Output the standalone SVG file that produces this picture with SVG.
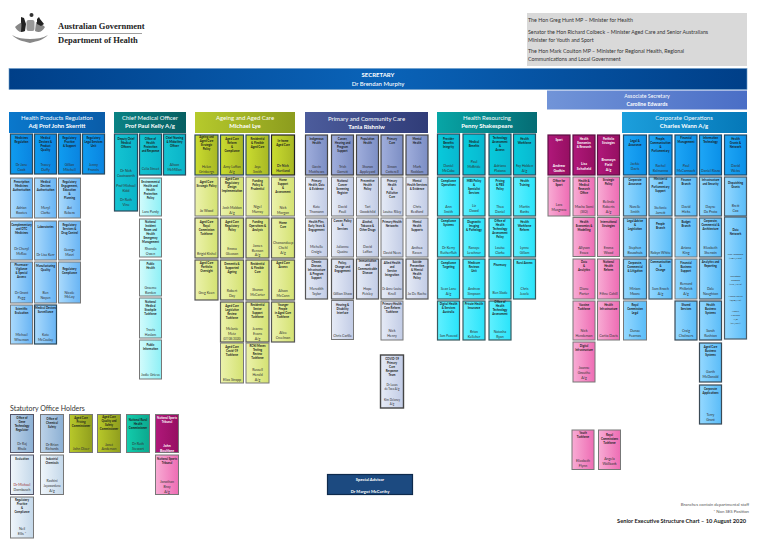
<svg xmlns="http://www.w3.org/2000/svg" width="760" height="543" viewBox="0 0 760 543">
<defs>
<linearGradient id="gSec" x1="0" x2="1" y1="0" y2="0"><stop offset="0" stop-color="#003f88"/><stop offset=".5" stop-color="#0a63b8"/><stop offset="1" stop-color="#003f88"/></linearGradient>
<linearGradient id="gAs" x1="0" x2="1" y1="0" y2="0"><stop offset="0" stop-color="#7194d8"/><stop offset="1" stop-color="#4a6ec6"/></linearGradient>
<linearGradient id="h1" x1="0" x2="1" y1="0" y2="0"><stop offset="0" stop-color="#0a78cc"/><stop offset="1" stop-color="#0a5ca8"/></linearGradient>
<linearGradient id="h2" x1="0" x2="1" y1="0" y2="0"><stop offset="0" stop-color="#0a8284"/><stop offset="1" stop-color="#075f62"/></linearGradient>
<linearGradient id="h3" x1="0" x2="1" y1="0" y2="0"><stop offset="0" stop-color="#b6ca2c"/><stop offset="1" stop-color="#8c9c1e"/></linearGradient>
<linearGradient id="h4" x1="0" x2="1" y1="0" y2="0"><stop offset="0" stop-color="#4c5c9c"/><stop offset="1" stop-color="#303c78"/></linearGradient>
<linearGradient id="h5" x1="0" x2="1" y1="0" y2="0"><stop offset="0" stop-color="#08a6a6"/><stop offset="1" stop-color="#056c74"/></linearGradient>
<linearGradient id="h6" x1="0" x2="1" y1="0" y2="0"><stop offset="0" stop-color="#1c9fdc"/><stop offset="1" stop-color="#0578b8"/></linearGradient>
<linearGradient id="a1" x1="0" x2="1" y1="0" y2="0"><stop offset="0" stop-color="#0f9cf0"/><stop offset="1" stop-color="#0a84e0"/></linearGradient>
<linearGradient id="a2" x1="0" x2="1" y1="0" y2="0"><stop offset="0" stop-color="#aadafc"/><stop offset="1" stop-color="#68b4f4"/></linearGradient>
<linearGradient id="b1" x1="0" x2="1" y1="0" y2="0"><stop offset="0" stop-color="#14c4d2"/><stop offset="1" stop-color="#0ab4c8"/></linearGradient>
<linearGradient id="b2" x1="0" x2="1" y1="0" y2="0"><stop offset="0" stop-color="#d2fbfc"/><stop offset="1" stop-color="#8ef0f6"/></linearGradient>
<linearGradient id="c1" x1="0" x2="1" y1="0" y2="0"><stop offset="0" stop-color="#cadc30"/><stop offset="1" stop-color="#a8b824"/></linearGradient>
<linearGradient id="c2" x1="0" x2="1" y1="0" y2="0"><stop offset="0" stop-color="#ecf2ac"/><stop offset="1" stop-color="#d4e272"/></linearGradient>
<linearGradient id="d1" x1="0" x2="1" y1="0" y2="0"><stop offset="0" stop-color="#a0aedc"/><stop offset="1" stop-color="#7c8ec4"/></linearGradient>
<linearGradient id="d2" x1="0" x2="1" y1="0" y2="0"><stop offset="0" stop-color="#e6ebf6"/><stop offset="1" stop-color="#c2cce6"/></linearGradient>
<linearGradient id="e1" x1="0" x2="1" y1="0" y2="0"><stop offset="0" stop-color="#08cadb"/><stop offset="1" stop-color="#08b8d0"/></linearGradient>
<linearGradient id="e2" x1="0" x2="1" y1="0" y2="0"><stop offset="0" stop-color="#60f0ff"/><stop offset="1" stop-color="#2ae4fa"/></linearGradient>
<linearGradient id="f1" x1="0" x2="1" y1="0" y2="0"><stop offset="0" stop-color="#b0187a"/><stop offset="1" stop-color="#960f62"/></linearGradient>
<linearGradient id="f2" x1="0" x2="1" y1="0" y2="0"><stop offset="0" stop-color="#f8acd4"/><stop offset="1" stop-color="#ee6cb4"/></linearGradient>
<linearGradient id="g1" x1="0" x2="1" y1="0" y2="0"><stop offset="0" stop-color="#1ea6f6"/><stop offset="1" stop-color="#0a90e8"/></linearGradient>
<linearGradient id="g2" x1="0" x2="1" y1="0" y2="0"><stop offset="0" stop-color="#94d8ff"/><stop offset="1" stop-color="#5abcf8"/></linearGradient>
<linearGradient id="s1" x1="0" x2="1" y1="0" y2="0"><stop offset="0" stop-color="#bcd2e8"/><stop offset="1" stop-color="#8cb0d4"/></linearGradient>
<linearGradient id="s2" x1="0" x2="1" y1="0" y2="0"><stop offset="0" stop-color="#f0f6fb"/><stop offset="1" stop-color="#c4d8ea"/></linearGradient>
<linearGradient id="s3" x1="0" x2="1" y1="0" y2="0"><stop offset="0" stop-color="#b8c82a"/><stop offset="1" stop-color="#909e1e"/></linearGradient>
<linearGradient id="s4" x1="0" x2="1" y1="0" y2="0"><stop offset="0" stop-color="#12ccac"/><stop offset="1" stop-color="#0ca88e"/></linearGradient>
</defs>
<style>
text{font-family:"Lato","Liberation Sans",sans-serif;text-anchor:middle;fill:#222}
.b{stroke:#777;stroke-width:1}
.k{stroke:#2c4a5c;stroke-width:1.2}
.t{font-size:2.9px;font-weight:700;fill:#1a1a1a}
.n{font-size:3.5px;fill:#333}
.w{fill:#fff}
.hd{font-size:6px;fill:#fff}
.hb{font-size:6px;font-weight:700;fill:#fff}
.min{font-size:5.3px;text-anchor:start;fill:#333}
.a1{fill:url(#a1)}.a2{fill:url(#a2)}.b1{fill:url(#b1)}.b2{fill:url(#b2)}.c1{fill:url(#c1)}.c2{fill:url(#c2)}.d1{fill:url(#d1)}.d2{fill:url(#d2)}.e1{fill:url(#e1)}.e2{fill:url(#e2)}.f1{fill:url(#f1)}.f2{fill:url(#f2)}.g1{fill:url(#g1)}.g2{fill:url(#g2)}.s1{fill:url(#s1)}.s2{fill:url(#s2)}.s3{fill:url(#s3)}.s4{fill:url(#s4)}
</style>
<rect width="760" height="543" fill="#fff"/>

<g id="logo">
<path d="M15 27c3-3 6-5 9-5l1 9c-4 2-7 1-10-4zM45 27c-3-3-6-5-9-5l-1 9c4 2 7 1 10-4zM12 35c5 5 10 6 18 8 8-2 13-3 18-8-5 3-12 4-18 4s-13-1-18-4z" fill="#888"/>
<path d="M21 17l3 1 2 6-1 7-4 1c0-4 1-7 0-10zM37 19l2-2 1 2 4 5-3 2-4-2z" fill="#222"/>
<rect x="26.500" y="20" width="8" height="11" rx="2" fill="#999"/>
<circle cx="31.500" cy="15" r="2" fill="#333"/>
<text x="58" y="28.500" style="text-anchor:start;font-family:'Liberation Serif',serif;font-weight:700;font-size:8.500px" fill="#222">Australian Government</text>
<rect x="58" y="33" width="84" height=".7" fill="#777"/>
<text x="58" y="43" style="text-anchor:start;font-family:'Liberation Serif',serif;font-weight:700;font-size:8.500px" fill="#222">Department of Health</text>
</g>

<g id="ministers">
<rect x="527" y="13" width="220" height="53" fill="#d9d9d9"/>
<text class="min" x="528" y="22">The Hon Greg Hunt MP – Minister for Health</text>
<text class="min" x="528" y="33.500">Senator the Hon Richard Colbeck – Minister Aged Care and Senior Australians</text>
<text class="min" x="528" y="41.500">Minister for Youth and Sport</text>
<text class="min" x="528" y="53">The Hon Mark Coulton MP – Minister for Regional Health, Regional</text>
<text class="min" x="528" y="61">Communications and Local Government</text>
</g>
<g id="secretary"><rect x="9" y="68.500" width="738" height="21" fill="url(#gSec)" stroke="#6a9cc8" stroke-width=".6"/><text class="hb" x="378" y="76.500">SECRETARY</text><text class="hd" x="378" y="85.500" style="font-weight:500">Dr Brendan Murphy</text></g>
<g id="associate"><rect x="547" y="90.500" width="200" height="19" fill="url(#gAs)"/><text class="hd" x="647" y="98" style="font-size:5.300px">Associate Secretary</text><text class="hb" x="647" y="106" style="font-size:5.300px">Caroline Edwards</text></g>

<g id="h-hpr"><rect x="9" y="112" width="96" height="21" fill="url(#h1)"/><text class="hd" x="57" y="120">Health Products Regulation</text><text class="hb" x="57" y="128">Adj Prof John Skerritt</text></g>
<g id="h-cmo"><rect x="114" y="112" width="72" height="21" fill="url(#h2)"/><text class="hd" x="150" y="120">Chief Medical Officer</text><text class="hb" x="150" y="128">Prof Paul Kelly A/g</text></g>
<g id="h-aged"><rect x="195" y="112" width="100" height="21" fill="url(#h3)"/><text class="hd" x="245" y="120">Ageing and Aged Care</text><text class="hb" x="245" y="128">Michael Lye</text></g>
<g id="h-prim"><rect x="305" y="112" width="123" height="21" fill="url(#h4)"/><text class="hd" x="366.500" y="120.500">Primary and Community Care</text><text class="hb" x="366.500" y="128.500">Tania Rishniw</text></g>
<g id="h-res"><rect x="437" y="112" width="100" height="21" fill="url(#h5)"/><text class="hd" x="487" y="120">Health Resourcing</text><text class="hb" x="487" y="128">Penny Shakespeare</text></g>
<g id="h-corp"><rect x="622" y="112" width="125" height="21" fill="url(#h6)"/><text class="hd" x="684" y="119.500">Corporate Operations</text><text class="hb" x="684" y="127.500">Charles Wann A/g</text></g>

<g id="hpr11" transform="translate(21.500 134)"><rect class="k a1" x="-11" width="22" height="40"/><text class="t" y="5">Medicines</text><text class="t" y="9">Regulation</text><text class="n" y="32">Dr Jane</text><text class="n" y="37">Cook</text></g>
<g id="hpr12" transform="translate(45.500 134)"><rect class="k a1" x="-11" width="22" height="40"/><text class="t" y="5">Medical</text><text class="t" y="9">Devices &amp;</text><text class="t" y="13">Product</text><text class="t" y="17">Quality</text><text class="n" y="32">Tracey</text><text class="n" y="37">Duffy</text></g>
<g id="hpr13" transform="translate(69.500 134)"><rect class="k a1" x="-11" width="22" height="40"/><text class="t" y="5">Regulatory</text><text class="t" y="9">Practice</text><text class="t" y="13">&amp; Support</text><text class="n" y="32">Gillian</text><text class="n" y="37">Mitchell</text></g>
<g id="hpr14" transform="translate(93.500 134)"><rect class="k a1" x="-11" width="22" height="40"/><text class="t" y="5">Regulatory</text><text class="t" y="9">Legal Services</text><text class="t" y="13">Unit</text><text class="n" y="32">Jenny</text><text class="n" y="37">Francis</text></g>

<g id="hpr21" transform="translate(21.500 178)"><rect class="b a2" x="-11" width="22" height="40"/><text class="t" y="5">Prescription</text><text class="t" y="9">Medicines</text><text class="t" y="13">Authorisation</text><text class="n" y="31">Adrian</text><text class="n" y="36">Bootes</text></g>
<g id="hpr22" transform="translate(45.500 178)"><rect class="b a2" x="-11" width="22" height="40"/><text class="t" y="5">Medical</text><text class="t" y="9">Devices</text><text class="t" y="13">Authorisation</text><text class="n" y="31">Meryl</text><text class="n" y="36">Clarke</text></g>
<g id="hpr23" transform="translate(69.500 178)"><rect class="b a2" x="-11" width="22" height="40"/><text class="t" y="5">Regulatory</text><text class="t" y="9">Engagement,</text><text class="t" y="13">Education</text><text class="t" y="17">&amp;</text><text class="t" y="21">Planning</text><text class="n" y="31">Avi</text><text class="n" y="36">Rebera</text></g>

<g id="hpr31" transform="translate(21.500 221)"><rect class="b a2" x="-11" width="22" height="39"/><text class="t" y="5">Complementary</text><text class="t" y="9">and OTC</text><text class="t" y="13">Medicines</text><text class="n" y="29">Dr Cheryl</text><text class="n" y="34">McRae</text></g>
<g id="hpr32" transform="translate(45.500 221)"><rect class="b a2" x="-11" width="22" height="39"/><text class="t" y="7">Laboratories</text><text class="n" y="35">Dr Lisa Kerr</text></g>
<g id="hpr33" transform="translate(69.500 221)"><rect class="b a2" x="-11" width="22" height="39"/><text class="t" y="5">Regulatory</text><text class="t" y="9">Services &amp;</text><text class="t" y="13">Drug Control</text><text class="n" y="30">George</text><text class="n" y="35">Masri</text></g>

<g id="hpr41" transform="translate(21.500 262)"><rect class="b a2" x="-11" width="22" height="41"/><text class="t" y="4">Pharmaco-</text><text class="t" y="8">Vigilance</text><text class="t" y="12">&amp; Special</text><text class="t" y="16">Access</text><text class="n" y="32">Dr Grant</text><text class="n" y="37">Pegg</text></g>
<g id="hpr42" transform="translate(45.500 262)"><rect class="b a2" x="-11" width="22" height="41"/><text class="t" y="5">Manufacturing</text><text class="t" y="9">Quality</text><text class="n" y="32">Ben</text><text class="n" y="37">Noyen</text></g>
<g id="hpr43" transform="translate(69.500 262)"><rect class="b a2" x="-11" width="22" height="41"/><text class="t" y="8">Regulatory</text><text class="t" y="12">Compliance</text><text class="n" y="32">Nicole</text><text class="n" y="36">McLay</text></g>
<g id="hpr51" transform="translate(21.500 305)"><rect class="b a2" x="-11" width="22" height="39"/><text class="t" y="5">Scientific</text><text class="t" y="9">Evaluation</text><text class="n" y="31">Michael</text><text class="n" y="36">Wiseman</text></g>
<g id="hpr52" transform="translate(45.500 305)"><rect class="k a2" x="-11" width="22" height="39"/><text class="t" y="4">Medical Devices</text><text class="t" y="8">Surveillance</text><text class="n" y="31">Kate</text><text class="n" y="36">McCaulay</text></g>

<g id="cmo1" transform="translate(126 134)"><rect class="k b1" x="-11.500" width="23" height="77"/><text class="t" y="6">Deputy Chief</text><text class="t" y="10">Medical</text><text class="t" y="14">Officers</text><text class="n" y="38">Dr Nick</text><text class="n" y="43">Coatsworth</text><text class="n" y="53">Prof Michael</text><text class="n" y="58">Kidd</text><text class="n" y="67">Dr Ruth</text><text class="n" y="72">Vine</text></g>
<g id="cmo2" transform="translate(150.500 134)"><rect class="k b1" x="-11" width="22" height="41"/><text class="t" y="6">Office of</text><text class="t" y="10">Health</text><text class="t" y="14">Protection</text><text class="t" y="18">and Response</text><text class="n" y="36">Celia Street</text></g>
<g id="cmo3" transform="translate(174.500 134)"><rect class="k b1" x="-11" width="22" height="41"/><text class="t" y="5">Chief Nursing</text><text class="t" y="9">&amp; Midwifery</text><text class="t" y="13">Officer</text><text class="n" y="32">Alison</text><text class="n" y="37">McMillan</text></g>
<g id="cmo22" transform="translate(150.500 178)"><rect class="b b2" x="-11" width="22" height="38"/><text class="t" y="5">Environmental</text><text class="t" y="9">Health and</text><text class="t" y="13">Health</text><text class="t" y="17">Protection</text><text class="t" y="21">Policy</text><text class="n" y="35">Lara Purdy</text></g>
<g id="cmo23" transform="translate(150.500 219)"><rect class="b b2" x="-11" width="22" height="38"/><text class="t" y="4">National</text><text class="t" y="8">Incident</text><text class="t" y="12">Room and</text><text class="t" y="16">Health</text><text class="t" y="20">Emergency</text><text class="t" y="24">Management</text><text class="n" y="31">Rhonda</text><text class="n" y="36">Owen</text></g>
<g id="cmo24" transform="translate(150.500 260)"><rect class="b b2" x="-11" width="22" height="36"/><text class="t" y="5">Public</text><text class="t" y="9">Health</text><text class="n" y="29">Graeme</text><text class="n" y="34">Barden</text></g>
<g id="cmo25" transform="translate(150.500 298)"><rect class="b b2" x="-11" width="22" height="40"/><text class="t" y="5">National</text><text class="t" y="9">Medical</text><text class="t" y="13">Stockpile</text><text class="t" y="17">Taskforce</text><text class="n" y="33">Travis</text><text class="n" y="38">Haslam</text></g>
<g id="cmo26" transform="translate(150.500 340)"><rect class="b b2" x="-11" width="22" height="39"/><text class="t" y="6">Public</text><text class="t" y="10">Information</text><text class="n" y="36">Jodie Grieve</text></g>

<g id="age11" transform="translate(206.500 135)"><rect class="k c1" x="-11.500" width="23" height="40"/><text class="t" y="3">Ageing and</text><text class="t" y="7">Aged Care</text><text class="t" y="11">Strategic</text><text class="t" y="15">Policy</text><text class="n" y="33">Helen</text><text class="n" y="38">Grinbergs</text></g>
<g id="age12" transform="translate(232 135)"><rect class="k c1" x="-11.500" width="23" height="40"/><text class="t" y="5">Aged Care</text><text class="t" y="9">Reform</text><text class="t" y="13">&amp;</text><text class="t" y="17">Compliance</text><text class="n" y="33">Amy Laffan</text><text class="n" y="38">A/g</text></g>
<g id="age13" transform="translate(257.500 135)"><rect class="k c1" x="-11.500" width="23" height="40"/><text class="t" y="5">Residential</text><text class="t" y="9">&amp; Flexible</text><text class="t" y="13">Aged Care</text><text class="n" y="33">Jaye</text><text class="n" y="38">Smith</text></g>
<g id="age14" transform="translate(283 135)"><rect class="k c1" x="-11.500" width="23" height="40" style="stroke:#222"/><text class="t" y="7">In-home</text><text class="t" y="11">Aged Care</text><text class="n" y="32" style="font-weight:700">Dr Nick</text><text class="n" y="37" style="font-weight:700">Hartland</text></g>

<g id="age21" transform="translate(206.500 177)"><rect class="b c2" x="-11.500" width="23" height="39"/><text class="t" y="6">Aged Care</text><text class="t" y="10">Strategic Policy</text><text class="n" y="35">Jo Wood</text></g>
<g id="age22" transform="translate(232 177)"><rect class="b c2" x="-11.500" width="23" height="39"/><text class="t" y="3">Aged Care</text><text class="t" y="7">Regulatory</text><text class="t" y="11">Design</text><text class="t" y="15">Implementation</text><text class="n" y="32">Josh Maldon</text><text class="n" y="37">A/g</text></g>
<g id="age23" transform="translate(257.500 177)"><rect class="b c2" x="-11.500" width="23" height="39"/><text class="t" y="5">Funding</text><text class="t" y="9">Policy &amp;</text><text class="t" y="13">Prudential</text><text class="n" y="31">Nigel</text><text class="n" y="36">Murray</text></g>
<g id="age24" transform="translate(283 177)"><rect class="b c2" x="-11.500" width="23" height="39"/><text class="t" y="4">Home</text><text class="t" y="8">Support</text><text class="t" y="12">&amp;</text><text class="t" y="16">Assessment</text><text class="n" y="32">Nick</text><text class="n" y="37">Morgan</text></g>

<g id="age31" transform="translate(206.500 218)"><rect class="k c2" x="-11.500" width="23" height="40" style="stroke:#555"/><text class="t" y="5">Aged Care</text><text class="t" y="9">Royal</text><text class="t" y="13">Commission</text><text class="t" y="17">Taskforce</text><text class="n" y="37">Brigid Kishel</text></g>
<g id="age32" transform="translate(232 218)"><rect class="k c2" x="-11.500" width="23" height="40" style="stroke:#555"/><text class="t" y="5">Aged Care</text><text class="t" y="9">Regulatory</text><text class="t" y="13">Policy</text><text class="n" y="32">Emma</text><text class="n" y="37">Gleason</text></g>
<g id="age33" transform="translate(257.500 218)"><rect class="k c2" x="-11.500" width="23" height="40" style="stroke:#555"/><text class="t" y="5">Funding</text><text class="t" y="9">Operations &amp;</text><text class="t" y="13">Analysis</text><text class="n" y="29">James</text><text class="n" y="33.500">Benson</text><text class="n" y="38">A/g</text></g>
<g id="age34" transform="translate(283 218)"><rect class="k c2" x="-11.500" width="23" height="40" style="stroke:#555"/><text class="t" y="6">Home</text><text class="t" y="10">Care</text><text class="n" y="26">Chamandeep</text><text class="n" y="31">Chehl</text><text class="n" y="36">A/g</text></g>

<g id="age41" transform="translate(206.500 260)"><rect class="k c2" x="-11.500" width="23" height="40" style="stroke:#555"/><text class="t" y="4">Aged Care</text><text class="t" y="8">Portfolio</text><text class="t" y="12">Oversight</text><text class="n" y="34">Greg Keen</text></g>
<g id="age42" transform="translate(232 260)"><rect class="k c2" x="-11.500" width="23" height="40" style="stroke:#555"/><text class="t" y="5">Dementia &amp;</text><text class="t" y="9">Supported</text><text class="t" y="13">Ageing</text><text class="n" y="32">Robert</text><text class="n" y="37">Day</text></g>
<g id="age43" transform="translate(257.500 260)"><rect class="k c2" x="-11.500" width="23" height="40" style="stroke:#555"/><text class="t" y="5">Residential</text><text class="t" y="9">&amp; Flexible</text><text class="t" y="13">Care</text><text class="n" y="31">Sharon</text><text class="n" y="36">McCarter</text></g>
<g id="age44" transform="translate(283 260)"><rect class="k c2" x="-11.500" width="23" height="40" style="stroke:#555"/><text class="t" y="4">Aged Care</text><text class="t" y="8">Access</text><text class="n" y="32">Alison</text><text class="n" y="37">McCann</text></g>

<g id="age52" transform="translate(232 302)"><rect class="k c2" x="-11.500" width="23" height="40" style="stroke:#555"/><text class="t" y="5">Aged Care</text><text class="t" y="9">Legislative</text><text class="t" y="13">Review</text><text class="t" y="17">Taskforce</text><text class="n" y="28">Melanie</text><text class="n" y="33">Metz</text><text class="n" y="38" style="font-size:2.900px">(07/08/2020)</text></g>
<g id="age53" transform="translate(257.500 302)"><rect class="k c2" x="-11.500" width="23" height="40" style="stroke:#555"/><text class="t" y="4">Residential</text><text class="t" y="8">Sector</text><text class="t" y="12">Support</text><text class="t" y="16">Taskforce</text><text class="n" y="28">Jeanne</text><text class="n" y="33">Evans</text><text class="n" y="38">A/g</text></g>
<g id="age54" transform="translate(283 302)"><rect class="k c2" x="-11.500" width="23" height="40" style="stroke:#555"/><text class="t" y="4">Younger</text><text class="t" y="8">People</text><text class="t" y="12">in Aged Care</text><text class="t" y="16">Taskforce</text><text class="n" y="32">Alice</text><text class="n" y="37">Creelman</text></g>
<g id="age62" transform="translate(232 343)"><rect class="b c2" x="-11.500" width="23" height="40"/><text class="t" y="5">Aged Care</text><text class="t" y="9">Covid-19</text><text class="t" y="13">Taskforce</text><text class="n" y="38">Eliza Strapp</text></g>
<g id="age63" transform="translate(257.500 343)"><rect class="b c2" x="-11.500" width="23" height="40"/><text class="t" y="4">RCNI Moves</text><text class="t" y="8">Testing</text><text class="t" y="12">Review</text><text class="t" y="16">Taskforce</text><text class="n" y="28">Russell</text><text class="n" y="33">Herald</text><text class="n" y="38">A/g</text></g>

<g id="pri11" transform="translate(316.500 135)"><rect class="k d1" x="-11" width="22" height="40" style="stroke:#444"/><text class="t" y="5">Indigenous</text><text class="t" y="9">Health</text><text class="n" y="33">Gavin</text><text class="n" y="38">Matthews</text></g>
<g id="pri12" transform="translate(342.500 135)"><rect class="k d1" x="-11" width="22" height="40" style="stroke:#444"/><text class="t" y="5">Cancer,</text><text class="t" y="9">Hearing and</text><text class="t" y="13">Program</text><text class="t" y="17">Support</text><text class="n" y="33">Trish</text><text class="n" y="38">Garrett</text></g>
<g id="pri13" transform="translate(367.500 135)"><rect class="k d1" x="-11" width="22" height="40" style="stroke:#444"/><text class="t" y="5">Population</text><text class="t" y="9">Health</text><text class="n" y="33">Sharon</text><text class="n" y="38">Appleyard</text></g>
<g id="pri14" transform="translate(392 135)"><rect class="k d1" x="-11" width="22" height="40" style="stroke:#444"/><text class="t" y="5">Primary</text><text class="t" y="9">Care</text><text class="n" y="33">Simon</text><text class="n" y="38">Cotterell</text></g>
<g id="pri15" transform="translate(417 135)"><rect class="k d1" x="-11" width="22" height="40" style="stroke:#444"/><text class="t" y="5">Mental</text><text class="t" y="9">Health</text><text class="n" y="33">Mark</text><text class="n" y="38">Roddam</text></g>

<g id="pri21" transform="translate(316.500 177)"><rect class="b d2" x="-11" width="22" height="39"/><text class="t" y="5">Primary</text><text class="t" y="9">Health, Data</text><text class="t" y="13">&amp; Evidence</text><text class="n" y="31">Kate</text><text class="n" y="36">Thomann</text></g>
<g id="pri22" transform="translate(342.500 177)"><rect class="b d2" x="-11" width="22" height="39"/><text class="t" y="5">National</text><text class="t" y="9">Cancer</text><text class="t" y="13">Screening</text><text class="t" y="17">Register</text><text class="n" y="31">David</text><text class="n" y="36">Pauli</text></g>
<g id="pri23" transform="translate(367.500 177)"><rect class="b d2" x="-11" width="22" height="39"/><text class="t" y="5">Preventive</text><text class="t" y="9">Health</text><text class="t" y="13">Policy</text><text class="n" y="31">Tari</text><text class="n" y="36">Goodchild</text></g>
<g id="pri24" transform="translate(392 177)"><rect class="b d2" x="-11" width="22" height="39"/><text class="t" y="5">Primary</text><text class="t" y="9">Health</text><text class="t" y="13">&amp;</text><text class="t" y="17">Palliative</text><text class="t" y="21">Care</text><text class="n" y="36">Louise Riley</text></g>
<g id="pri25" transform="translate(417 177)"><rect class="b d2" x="-11" width="22" height="39"/><text class="t" y="5">Mental</text><text class="t" y="9">Health Services</text><text class="t" y="13">&amp; Evidence</text><text class="n" y="31">Chris</text><text class="n" y="36">Bedford</text></g>

<g id="pri31" transform="translate(316.500 218)"><rect class="b d2" x="-11" width="22" height="39"/><text class="t" y="5">Health Plns,</text><text class="t" y="9">Early Years &amp;</text><text class="t" y="13">Engagement</text><text class="n" y="30">Michelle</text><text class="n" y="35">Craigie</text></g>
<g id="pri32" transform="translate(342.500 218)"><rect class="b d2" x="-11" width="22" height="39"/><text class="t" y="4">Cancer, Policy</text><text class="t" y="8">&amp;</text><text class="t" y="12">Services</text><text class="n" y="30">Julianne</text><text class="n" y="35">Quaine</text></g>
<g id="pri33" transform="translate(367.500 218)"><rect class="b d2" x="-11" width="22" height="39"/><text class="t" y="5">Alcohol,</text><text class="t" y="9">Tobacco &amp;</text><text class="t" y="13">Other Drugs</text><text class="n" y="30">David</text><text class="n" y="35">Laffan</text></g>
<g id="pri34" transform="translate(392 218)"><rect class="b d2" x="-11" width="22" height="39"/><text class="t" y="5">Primary Health</text><text class="t" y="9">Networks</text><text class="n" y="36">David Nees</text></g>
<g id="pri35" transform="translate(417 218)"><rect class="b d2" x="-11" width="22" height="39"/><text class="t" y="5">Mental</text><text class="t" y="9">Health</text><text class="t" y="13">Supports</text><text class="n" y="31">Anthea</text><text class="n" y="36">Raven</text></g>

<g id="pri41" transform="translate(316.500 259)"><rect class="k d2" x="-11" width="22" height="40" style="stroke:#555"/><text class="t" y="4">Chronic</text><text class="t" y="8">Disease,</text><text class="t" y="12">Infrastructure</text><text class="t" y="16">&amp; Program</text><text class="t" y="20">Support</text><text class="n" y="31">Meredith</text><text class="n" y="36">Taylor</text></g>
<g id="pri42" transform="translate(342.500 259)"><rect class="k d2" x="-11" width="22" height="40" style="stroke:#555"/><text class="t" y="5">Policy,</text><text class="t" y="9">Change and</text><text class="t" y="13">Engagement</text><text class="n" y="36">Gillian Shaw</text></g>
<g id="pri43" transform="translate(367.500 259)"><rect class="k d2" x="-11" width="22" height="40" style="stroke:#555"/><text class="t" y="3">Immunisation</text><text class="t" y="7">and</text><text class="t" y="11">Communicable</text><text class="t" y="15">Disease</text><text class="n" y="31">Hope</text><text class="n" y="36">Peisley</text></g>
<g id="pri44" transform="translate(392 259)"><rect class="k d2" x="-11" width="22" height="40" style="stroke:#555"/><text class="t" y="5">Allied Health</text><text class="t" y="9">and</text><text class="t" y="13">Service</text><text class="t" y="17">Integration</text><text class="n" y="31" style="font-size:2.900px">Dr Anne-Louise</text><text class="n" y="36">Knell</text></g>
<g id="pri45" transform="translate(417 259)"><rect class="k d2" x="-11" width="22" height="40" style="stroke:#555"/><text class="t" y="4">Suicide</text><text class="t" y="8">Prevention</text><text class="t" y="12">&amp; Mental</text><text class="t" y="16">Health</text><text class="t" y="20">Policy</text><text class="n" y="36">Jo De Rache</text></g>
<g id="pri52" transform="translate(342.500 300.500)"><rect class="b d2" x="-11" width="22" height="39"/><text class="t" y="5">Hearing &amp;</text><text class="t" y="9">Disability</text><text class="t" y="13">Interface</text><text class="n" y="36">Chris Carlile</text></g>
<g id="pri54" transform="translate(392 301)"><rect class="b d2" x="-11" width="22" height="39"/><text class="t" y="4">Primary Health</text><text class="t" y="8">Care Reform</text><text class="t" y="12">Taskforce</text><text class="n" y="31">Nick</text><text class="n" y="36">Henry</text></g>
<g id="pri64" transform="translate(392 355)"><rect class="b d2" x="-11.500" width="23" height="53" style="stroke:#444;stroke-width:1.400"/><text class="t" y="5">COVID-19</text><text class="t" y="9">Primary</text><text class="t" y="13">Care</text><text class="t" y="17">Response</text><text class="t" y="21">Team</text><text class="n" y="31" style="font-size:2.900px">Dr Lucas</text><text class="n" y="35" style="font-size:2.900px">de Toca A/g</text><text class="n" y="46" style="font-size:2.900px">Kim Delaney</text><text class="n" y="50" style="font-size:2.900px">A/g</text></g>

<g id="res11" transform="translate(448.500 134)"><rect class="k e1" x="-11" width="22" height="41"/><text class="t" y="6">Provider</text><text class="t" y="10">Benefits</text><text class="t" y="14">Integrity</text><text class="n" y="33">Daniel</text><text class="n" y="38">McCabe</text></g>
<g id="res12" transform="translate(474 134)"><rect class="k e1" x="-11" width="22" height="41"/><text class="t" y="9">Medical</text><text class="t" y="13">Benefits</text><text class="n" y="29">Paul</text><text class="n" y="34">McBride</text></g>
<g id="res13" transform="translate(500 134)"><rect class="k e1" x="-11" width="22" height="41"/><text class="t" y="5">Technology</text><text class="t" y="9">Assessment</text><text class="t" y="13">&amp;</text><text class="t" y="17">Access</text><text class="n" y="33">Adriana</text><text class="n" y="38">Platona</text></g>
<g id="res14" transform="translate(524.500 134)"><rect class="k e1" x="-11" width="22" height="41"/><text class="t" y="6">Health</text><text class="t" y="10">Workforce</text><text class="n" y="33">Fay Holden</text><text class="n" y="38">A/g</text></g>

<g id="res21" transform="translate(448.500 177)"><rect class="k e2" x="-11" width="22" height="39" style="stroke:#3a5a60"/><text class="t" y="5">Compliance</text><text class="t" y="9">Operations</text><text class="n" y="31">Ann</text><text class="n" y="36">Smith</text></g>
<g id="res22" transform="translate(474 177)"><rect class="k e2" x="-11" width="22" height="39" style="stroke:#3a5a60"/><text class="t" y="5">MBS Policy</text><text class="t" y="9">&amp;</text><text class="t" y="13">Specialist</text><text class="t" y="17">Services</text><text class="n" y="30">Liz</text><text class="n" y="35">Dowd</text></g>
<g id="res23" transform="translate(500 177)"><rect class="k e2" x="-11" width="22" height="39" style="stroke:#3a5a60"/><text class="t" y="5">Pricing</text><text class="t" y="9">&amp; PBS</text><text class="t" y="13">Policy</text><text class="n" y="31">Thea</text><text class="n" y="36">Daniel</text></g>
<g id="res24" transform="translate(524.500 177)"><rect class="k e2" x="-11" width="22" height="39" style="stroke:#3a5a60"/><text class="t" y="5">Health</text><text class="t" y="9">Training</text><text class="n" y="31">Martin</text><text class="n" y="36">Banks</text></g>

<g id="res31" transform="translate(448.500 218)"><rect class="k e2" x="-11" width="22" height="39" style="stroke:#3a5a60"/><text class="t" y="4">Compliance</text><text class="t" y="8">Systems</text><text class="n" y="31">Dr Kerry</text><text class="n" y="36">Rutherfluh</text></g>
<g id="res32" transform="translate(474 218)"><rect class="k e2" x="-11" width="22" height="39" style="stroke:#3a5a60"/><text class="t" y="5">Diagnostic</text><text class="t" y="9">Imaging</text><text class="t" y="13">&amp; Pathology</text><text class="n" y="31">Ranaye</text><text class="n" y="36">Leschner</text></g>
<g id="res33" transform="translate(500 218)"><rect class="k e2" x="-11" width="22" height="39" style="stroke:#3a5a60"/><text class="t" y="4">Office of</text><text class="t" y="8">Health</text><text class="t" y="12">Technology</text><text class="t" y="16">Assessment</text><text class="t" y="20">Policy</text><text class="n" y="31">Louise</text><text class="n" y="36">Clarke</text></g>
<g id="res34" transform="translate(524.500 218)"><rect class="k e2" x="-11" width="22" height="39" style="stroke:#3a5a60"/><text class="t" y="5">Health</text><text class="t" y="9">Workforce</text><text class="t" y="13">Reform</text><text class="n" y="31">Lynne</text><text class="n" y="36">Gillam</text></g>

<g id="res41" transform="translate(448.500 259)"><rect class="k e2" x="-11" width="22" height="40" style="stroke:#3a5a60"/><text class="t" y="5">Compliance</text><text class="t" y="9">Targeting</text><text class="n" y="31">Sean Lane</text><text class="n" y="36">A/g</text></g>
<g id="res42" transform="translate(474 259)"><rect class="k e2" x="-11" width="22" height="40" style="stroke:#3a5a60"/><text class="t" y="5">Medicare</text><text class="t" y="9">Reviews</text><text class="t" y="13">Unit</text><text class="n" y="31">Andrew</text><text class="n" y="36">Simpson</text></g>
<g id="res43" transform="translate(500 259)"><rect class="k e2" x="-11" width="22" height="40" style="stroke:#3a5a60"/><text class="t" y="7">Pharmacy</text><text class="n" y="35">Ben Slade</text></g>
<g id="res44" transform="translate(524.500 259)"><rect class="k e2" x="-11" width="22" height="40" style="stroke:#3a5a60"/><text class="t" y="5">Rural Access</text><text class="n" y="31">Chris</text><text class="n" y="36">Jeacle</text></g>

<g id="res51" transform="translate(448.500 301)"><rect class="k e2" x="-11" width="22" height="39" style="stroke:#3a5a60"/><text class="t" y="4">Digital Health</text><text class="t" y="8">&amp; Services</text><text class="t" y="12">Australia</text><text class="n" y="36" style="font-size:3.100px">Sam Peascod</text></g>
<g id="res52" transform="translate(474 301)"><rect class="k e2" x="-11" width="22" height="39" style="stroke:#3a5a60"/><text class="t" y="4">Private Health</text><text class="t" y="8">Insurance</text><text class="n" y="32">Brian</text><text class="n" y="37">Kelleher</text></g>
<g id="res53" transform="translate(500 301)"><rect class="k e2" x="-11" width="22" height="39" style="stroke:#3a5a60"/><text class="t" y="2">Office of</text><text class="t" y="6">Health</text><text class="t" y="10">Technology</text><text class="t" y="14">Assessment</text><text class="n" y="32">Natasha</text><text class="n" y="37">Ryan</text></g>

<g id="spt1" transform="translate(559 135)"><rect class="k f1" x="-11" width="22" height="40" style="stroke:#5d1044"/><text class="t w" y="6">Sport</text><text class="n w" y="32" style="font-weight:700">Andrew</text><text class="n w" y="37" style="font-weight:700">Godkin</text></g>
<g id="spt2" transform="translate(584 135)"><rect class="k f1" x="-11" width="22" height="40" style="stroke:#5d1044"/><text class="t w" y="5">Health</text><text class="t w" y="9">Economics</text><text class="t w" y="13">&amp; Research</text><text class="n w" y="30" style="font-weight:700">Lisa</text><text class="n w" y="35" style="font-weight:700">Schofield</text></g>
<g id="spt3" transform="translate(608.500 135)"><rect class="k f1" x="-11" width="22" height="40" style="stroke:#5d1044"/><text class="t w" y="5">Portfolio</text><text class="t w" y="9">Strategies</text><text class="n w" y="26" style="font-weight:700">Bronwyn</text><text class="n w" y="31" style="font-weight:700">Field</text><text class="n w" y="36" style="font-weight:700">A/g</text></g>

<g id="spt21" transform="translate(559 177)"><rect class="b f2" x="-11" width="22" height="39"/><text class="t" y="5">Office for</text><text class="t" y="9">Sport</text><text class="n" y="29">Lara</text><text class="n" y="34">Musgrave</text></g>
<g id="spt22" transform="translate(584 177)"><rect class="b f2" x="-11" width="22" height="39"/><text class="t" y="5">Health &amp;</text><text class="t" y="9">Medical</text><text class="t" y="13">Research</text><text class="t" y="17">Office</text><text class="n" y="31">Masha Somi</text><text class="n" y="36">(SIO)</text></g>
<g id="spt23" transform="translate(608.500 177)"><rect class="b f2" x="-11" width="22" height="39"/><text class="t" y="4">Strategic</text><text class="t" y="8">Policy</text><text class="n" y="26">Belinda</text><text class="n" y="31">Roberts</text><text class="n" y="36">A/g</text></g>
<g id="spt32" transform="translate(584 217.500)"><rect class="b f2" x="-11" width="22" height="39"/><text class="t" y="5">Health</text><text class="t" y="9">Economics &amp;</text><text class="t" y="13">Modelling</text><text class="n" y="31">Allyson</text><text class="n" y="36">Essex</text></g>
<g id="spt33" transform="translate(608.500 217.500)"><rect class="b f2" x="-11" width="22" height="39"/><text class="t" y="5">International</text><text class="t" y="9">Strategies</text><text class="n" y="31">Emma</text><text class="n" y="36">Wood</text></g>
<g id="spt42" transform="translate(584 259)"><rect class="b f2" x="-11" width="22" height="40"/><text class="t" y="4">Data</text><text class="t" y="8">&amp;</text><text class="t" y="12">Analytics</text><text class="n" y="31">Diane</text><text class="n" y="36">Porter</text></g>
<g id="spt43" transform="translate(608.500 259)"><rect class="b f2" x="-11" width="22" height="40"/><text class="t" y="4">National</text><text class="t" y="8">Health</text><text class="t" y="12">Reform</text><text class="n" y="36">Fifine Cahill</text></g>
<g id="spt52" transform="translate(584 301)"><rect class="b f2" x="-11" width="22" height="39"/><text class="t" y="5">Vaccine</text><text class="t" y="9">Taskforce</text><text class="n" y="31">Nick</text><text class="n" y="36">Henderson</text></g>
<g id="spt53" transform="translate(608.500 301)"><rect class="b f2" x="-11" width="22" height="39"/><text class="t" y="5">Health</text><text class="t" y="9">Infrastructure</text><text class="n" y="36">Carita Davis</text></g>
<g id="spt62" transform="translate(584 342)"><rect class="b f2" x="-11" width="22" height="40"/><text class="t" y="5">Digital</text><text class="t" y="9">Infrastructure</text><text class="n" y="27">Joanne</text><text class="n" y="32">Grouthe</text><text class="n" y="37">A/g</text></g>
<g id="spt72" transform="translate(583 430)"><rect class="b f2" x="-11" width="22" height="39.500"/><text class="t" y="4">Youth</text><text class="t" y="8">Taskforce</text><text class="n" y="32">Elizabeth</text><text class="n" y="37">Flynn</text></g>
<g id="spt73" transform="translate(609.500 430)"><rect class="b f2" x="-11" width="22" height="39.500"/><text class="t" y="6">Royal</text><text class="t" y="10">Commissions</text><text class="t" y="14">Taskforce</text><text class="n" y="30">Angela</text><text class="n" y="35">Wallbank</text></g>

<g id="cor11" transform="translate(635 135)"><rect class="k g1" x="-11.500" width="23" height="40" style="stroke:#1c4a6c"/><text class="t" y="7">Legal &amp;</text><text class="t" y="11">Assurance</text><text class="n" y="30">Jackie</text><text class="n" y="35">Davis</text></g>
<g id="cor12" transform="translate(660.500 135)"><rect class="k g1" x="-11.500" width="23" height="40" style="stroke:#1c4a6c"/><text class="t" y="5">People,</text><text class="t" y="9">Communication</text><text class="t" y="13">&amp;</text><text class="t" y="17">Parliamentary</text><text class="n" y="32">Rachel</text><text class="n" y="37">Balmanno</text></g>
<g id="cor13" transform="translate(686 135)"><rect class="k g1" x="-11" width="22" height="40" style="stroke:#1c4a6c"/><text class="t" y="4">Financial</text><text class="t" y="8">Management</text><text class="n" y="32">Paul</text><text class="n" y="37">McCormack</text></g>
<g id="cor14" transform="translate(710.500 135)"><rect class="k g1" x="-11" width="22" height="40" style="stroke:#1c4a6c"/><text class="t" y="4">Information</text><text class="t" y="8">Technology</text><text class="n" y="37">Daniel Rizzo</text></g>
<g id="cor15" transform="translate(735.500 135)"><rect class="k g1" x="-11" width="22" height="40" style="stroke:#1c4a6c"/><text class="t" y="5">Health</text><text class="t" y="9">Grants &amp;</text><text class="t" y="13">Network</text><text class="n" y="32">David</text><text class="n" y="37">Weiss</text></g>

<g id="cor21" transform="translate(635 177)"><rect class="k g2" x="-11.500" width="23" height="39" style="stroke:#4a5a66"/><text class="t" y="4">Corporate</text><text class="t" y="8">Assurance</text><text class="n" y="31">Narelle</text><text class="n" y="36">Smith</text></g>
<g id="cor22" transform="translate(660.500 177)"><rect class="k g2" x="-11.500" width="23" height="39" style="stroke:#4a5a66"/><text class="t" y="2.500">Ministerial</text><text class="t" y="6.500">and</text><text class="t" y="10.500">Parliamentary</text><text class="t" y="14.500">Support</text><text class="n" y="32">Stefanie</text><text class="n" y="37">Jarrett</text></g>
<g id="cor23" transform="translate(686 177)"><rect class="k g2" x="-11" width="22" height="39" style="stroke:#4a5a66"/><text class="t" y="4">Finance</text><text class="t" y="8">Branch</text><text class="n" y="31">David</text><text class="n" y="36">Hicks</text></g>
<g id="cor24" transform="translate(710.500 177)"><rect class="k g2" x="-11" width="22" height="39" style="stroke:#4a5a66"/><text class="t" y="4">Infrastructure</text><text class="t" y="8">and Security</text><text class="n" y="31">Dayne</text><text class="n" y="36">Da Prato</text></g>
<g id="cor25" transform="translate(735.500 177)"><rect class="k g2" x="-11" width="22" height="39" style="stroke:#4a5a66"/><text class="t" y="7">Dispatching</text><text class="t" y="11">Grants</text><text class="n" y="30">Brett</text><text class="n" y="35">Cox</text></g>

<g id="cor31" transform="translate(635 218)"><rect class="k g2" x="-11.500" width="23" height="39" style="stroke:#4a5a66"/><text class="t" y="4">Legal Advice</text><text class="t" y="8">&amp;</text><text class="t" y="12">Legislation</text><text class="n" y="31">Stephen</text><text class="n" y="36">Bouwhuis</text></g>
<g id="cor32" transform="translate(660.500 218)"><rect class="k g2" x="-11.500" width="23" height="39" style="stroke:#4a5a66"/><text class="t" y="7">People</text><text class="t" y="11">Branch</text><text class="n" y="36">Robyn White</text></g>
<g id="cor33" transform="translate(686 218)"><rect class="b g2" x="-11" width="22" height="39"/><text class="t" y="5">Budget</text><text class="t" y="9">Branch</text><text class="n" y="31">Ariana</text><text class="n" y="36">King</text></g>
<g id="cor34" transform="translate(710.500 218)"><rect class="k g2" x="-11" width="22" height="39" style="stroke:#4a5a66"/><text class="t" y="4">Corporate,</text><text class="t" y="8">Commercial &amp;</text><text class="t" y="12">Architecture</text><text class="n" y="31">Elizabeth</text><text class="n" y="36">Sherwin</text></g>
<g id="cor35" transform="translate(735.500 217)"><rect class="k g2" x="-11" width="22" height="122" style="stroke:#4a5a66"/><text class="t" y="14">Data</text><text class="t" y="18">Network</text><text class="n" y="38" style="font-size:2.600px">Lisa Adamson</text><text class="n" y="42" style="font-size:2.600px">(ADA/ACT)</text><text class="n" y="60" style="font-size:2.600px">Christine</text><text class="n" y="64" style="font-size:2.600px">Gannon</text><text class="n" y="68" style="font-size:2.600px">(VIC / TAS)</text><text class="n" y="80" style="font-size:2.600px">Nicole Jarvis</text><text class="n" y="84" style="font-size:2.600px">(QLD/NT)</text><text class="n" y="95" style="font-size:2.600px">Henry</text><text class="n" y="99" style="font-size:2.600px">Mcklow</text><text class="n" y="103" style="font-size:2.600px">A/g</text><text class="n" y="107" style="font-size:2.600px">(SA/WA)</text></g>

<g id="cor41" transform="translate(635 259)"><rect class="k g2" x="-11.500" width="23" height="40" style="stroke:#4a5a66"/><text class="t" y="5">Corporate,</text><text class="t" y="9">Commercial</text><text class="t" y="13">&amp; Litigation</text><text class="n" y="31">Miriam</text><text class="n" y="36">Moore</text></g>
<g id="cor42" transform="translate(660.500 259)"><rect class="k g2" x="-11.500" width="23" height="40" style="stroke:#4a5a66"/><text class="t" y="4">Communication</text><text class="t" y="8">&amp;</text><text class="t" y="12">Change</text><text class="n" y="31">Sam Enoch</text><text class="n" y="36">A/g</text></g>
<g id="cor43" transform="translate(686 259)"><rect class="b g2" x="-11" width="22" height="40"/><text class="t" y="5">Financial</text><text class="t" y="9">Business</text><text class="t" y="13">Support</text><text class="n" y="26">Bernard</text><text class="n" y="31">Philbrick</text><text class="n" y="36">A/g</text></g>
<g id="cor44" transform="translate(710.500 259)"><rect class="k g2" x="-11" width="22" height="40" style="stroke:#4a5a66"/><text class="t" y="4">Analytics and</text><text class="t" y="8">Reporting</text><text class="n" y="31">Dale</text><text class="n" y="36">Naughton</text></g>

<g id="cor51" transform="translate(635 301)"><rect class="b g2" x="-11.500" width="23" height="39"/><text class="t" y="5">Royal</text><text class="t" y="9">Commission</text><text class="t" y="13">Legal</text><text class="n" y="31">Dunae</text><text class="n" y="36">Fearnos</text></g>
<g id="cor53" transform="translate(686 301)"><rect class="k g2" x="-11" width="22" height="39" style="stroke:#3a4a56"/><text class="t" y="5">Shared</text><text class="t" y="9">Services</text><text class="n" y="31">Craig</text><text class="n" y="36">Chalmers</text></g>
<g id="cor54" transform="translate(710.500 301)"><rect class="k g2" x="-11" width="22" height="39" style="stroke:#3a4a56"/><text class="t" y="5">Health</text><text class="t" y="9">Business</text><text class="t" y="13">Systems</text><text class="n" y="31">Sarah</text><text class="n" y="36">Rushton</text></g>
<g id="cor64" transform="translate(710.500 343)"><rect class="k g2" x="-11" width="22" height="39" style="stroke:#3a4a56"/><text class="t" y="5">Aged Care</text><text class="t" y="9">Business</text><text class="t" y="13">Systems</text><text class="n" y="30">Garth</text><text class="n" y="35">McDonald</text></g>
<g id="cor74" transform="translate(710.500 385)"><rect class="k g2" x="-11" width="22" height="39" style="stroke:#3a4a56"/><text class="t" y="5">Corporate</text><text class="t" y="9">Applications</text><text class="n" y="31">Terry</text><text class="n" y="36">Grant</text></g>

<text id="stat-title" x="10" y="411" style="text-anchor:start;font-size:7px;fill:#333">Statutory Office Holders</text>
<g id="st1" transform="translate(22 414.500)"><rect class="b s1" x="-11.500" width="23" height="38" style="stroke:#556"/><text class="t" y="4">Office of</text><text class="t" y="8">Gene</text><text class="t" y="12">Technology</text><text class="t" y="16">Regulator</text><text class="n" y="30">Dr Raj</text><text class="n" y="35">Bhula</text></g>
<g id="st2" transform="translate(52 414.500)"><rect class="b s1" x="-11.500" width="23" height="38"/><text class="t" y="5">Office of</text><text class="t" y="9">Chemical</text><text class="t" y="13">Safety</text><text class="n" y="31">Dr Brian</text><text class="n" y="35.500">Richards</text></g>
<g id="st3" transform="translate(81 414.500)"><rect class="b s3" x="-11.500" width="23" height="38"/><text class="t" y="4">Aged Care</text><text class="t" y="8">Pricing</text><text class="t" y="12">Commissioner</text><text class="n" y="35">John Dicer</text></g>
<g id="st4" transform="translate(109 414.500)"><rect class="b s3" x="-11.500" width="23" height="38"/><text class="t" y="3.500">Aged Care</text><text class="t" y="7.500">Quality and</text><text class="t" y="11.500">Safety</text><text class="t" y="15.500">Commissioner</text><text class="n" y="31">Janet</text><text class="n" y="35.500">Anderson</text></g>
<g id="st5" transform="translate(138 414.500)"><rect class="b s4" x="-11.500" width="23" height="38"/><text class="t" y="6">National Rural</text><text class="t" y="10">Health</text><text class="t" y="14">Commissioner</text><text class="n" y="30">Dr Ruth</text><text class="n" y="35">Stewart</text></g>
<g id="st6" transform="translate(167 414.500)"><rect class="b f1" x="-11.500" width="23" height="38"/><text class="t w" y="4.500">National Sports</text><text class="t w" y="8.500">Tribunal</text><text class="n w" y="32" style="font-weight:700">John</text><text class="n w" y="37" style="font-weight:700">Boultbee</text></g>
<g id="st21" transform="translate(22 455)"><rect class="b s2" x="-11.500" width="23" height="39.500" style="stroke:#556"/><text class="t" y="5">Evaluation</text><text class="n" y="31" style="fill:#933">Dr Michael</text><text class="n" y="36">Dornbusch</text></g>
<g id="st22" transform="translate(52 455)"><rect class="b s2" x="-11.500" width="23" height="39.500"/><text class="t" y="5">Industrial</text><text class="t" y="9">Chemicals</text><text class="n" y="27">Rashini</text><text class="n" y="31.500" style="font-size:3px">Jayawardena</text><text class="n" y="36.500">A/g</text></g>
<g id="st26" transform="translate(167 455)"><rect class="b f2" x="-11.500" width="23" height="39.500"/><text class="t" y="4.500">National Sports</text><text class="t" y="8.500">Tribunal</text><text class="n" y="28">Jonathan</text><text class="n" y="33">Bray</text><text class="n" y="37.500">A/g</text></g>
<g id="st31" transform="translate(22 497)"><rect class="b s2" x="-11.500" width="23" height="41"/><text class="t" y="4">Regulatory</text><text class="t" y="8">Practice</text><text class="t" y="12">&amp;</text><text class="t" y="16">Compliance</text><text class="n" y="33">Neil</text><text class="n" y="38">Ellis *</text></g>

<g id="advisor"><rect x="327.500" y="474.500" width="85" height="20" fill="#1c4a80" stroke="#0e2a4c" stroke-width="1.200"/><text x="370" y="481" class="t w" style="font-size:4.200px">Special Advisor</text><text x="370" y="493" class="t w" style="font-size:4.200px">Dr Margot McCarthy</text></g>

<g id="footer">
<text x="749" y="506" style="text-anchor:end;font-size:4.300px;fill:#555">Branches contain departmental staff</text>
<text x="749" y="512.500" style="text-anchor:end;font-size:4.300px;fill:#555">* Non SES Position</text>
<text x="746" y="523" style="text-anchor:end;font-size:5.700px;font-weight:700;fill:#222">Senior Executive Structure Chart –  10 August 2020</text>
</g>
</svg>
